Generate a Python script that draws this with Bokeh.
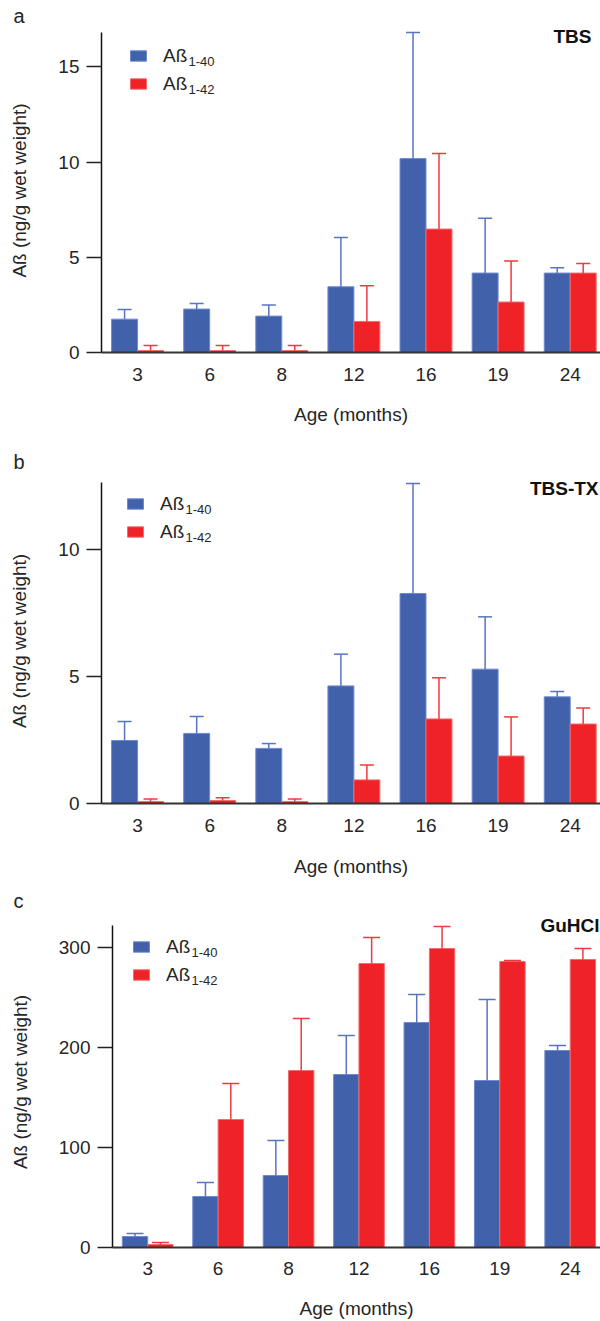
import numpy as np
from bokeh.plotting import figure
from bokeh.models import (ColumnDataSource, Range1d, FixedTicker, Whisker, TeeHead,
                          Legend, LegendItem, Label, Title)
from bokeh.embed import file_html
from bokeh.resources import INLINE

# ---------------- data ----------------
ages = ["3", "6", "8", "12", "16", "19", "24"]

tbs_ab40 = [1.75, 2.28, 1.91, 3.45, 10.18, 4.17, 4.17]
tbs_ab40_err = [0.51, 0.29, 0.58, 2.59, 6.62, 2.88, 0.28]
tbs_ab42 = [0.10, 0.10, 0.10, 1.63, 6.48, 2.65, 4.17]
tbs_ab42_err = [0.27, 0.27, 0.27, 1.87, 3.97, 2.15, 0.50]

tbstx_ab40 = [2.48, 2.76, 2.17, 4.63, 8.27, 5.29, 4.20]
tbstx_ab40_err = [0.75, 0.67, 0.19, 1.25, 4.33, 2.06, 0.21]
tbstx_ab42 = [0.08, 0.12, 0.08, 0.93, 3.33, 1.87, 3.13]
tbstx_ab42_err = [0.10, 0.11, 0.10, 0.59, 1.62, 1.54, 0.63]

guhcl_ab40 = [11, 51, 72, 173, 225, 167, 197]
guhcl_ab40_err = [3, 14, 35, 39, 28, 81, 5]
guhcl_ab42 = [3, 128, 177, 284, 299, 286, 288]
guhcl_ab42_err = [2, 36, 52, 26, 22, 1, 11]

series_labels = ["Aß", "Aß"]
series_subs = ["1-40", "1-42"]
y_label = "Aß (ng/g wet weight)"
x_label = "Age (months)"

# ---------------- style ----------------
FONT = "Liberation Sans"
BLUE_FILL, BLUE_LINE, BLUE_ERR = "#4161AB", "#7089CF", "#5874C2"
RED_FILL, RED_LINE, RED_ERR = "#EE2227", "#F46A6E", "#EE3A40"
TXT = "#262626"
BAR_W = 0.36
FIG_W = 600


def panel(letter, tag, s40, e40, s42, e42, yticks, axis_top, px_per_unit, head_px,
          frame_left, frame_h, x_end, top_b, bottom_b, cap, leg_left, swatch_top,
          tag_right, tag_mid, letter_x, letter_standoff, lab_standoff, axlab_standoff):
    fw = FIG_W - frame_left
    # frame reaches a little above the top of the value axis (room for the tag)
    ymax = axis_top + head_px / px_per_unit
    p = figure(width=FIG_W, frame_width=fw, frame_height=frame_h,
               min_border_left=frame_left, min_border_right=0,
               min_border_top=top_b, min_border_bottom=bottom_b,
               x_range=Range1d(-0.5, x_end), y_range=Range1d(0, ymax),
               output_backend="svg", toolbar_location=None)
    idx = np.arange(len(ages))
    src = ColumnDataSource(dict(
        xb=idx - BAR_W / 2, xr=idx + BAR_W / 2,
        v40=s40, v42=s42,
        u40=[v + e for v, e in zip(s40, e40)],
        u42=[v + e for v, e in zip(s42, e42)]))

    r40 = p.vbar(x="xb", top="v40", bottom=0, width=BAR_W, source=src,
                 fill_color=BLUE_FILL, line_color=BLUE_LINE, line_width=1)
    r42 = p.vbar(x="xr", top="v42", bottom=0, width=BAR_W, source=src,
                 fill_color=RED_FILL, line_color=RED_LINE, line_width=1)
    for base, lo, hi, col in (("xb", "v40", "u40", BLUE_ERR), ("xr", "v42", "u42", RED_ERR)):
        p.add_layout(Whisker(source=src, base=base, lower=lo, upper=hi,
                             line_color=col, line_width=1.5, lower_head=None,
                             upper_head=TeeHead(size=cap, line_color=col, line_width=1.5),
                             level="glyph"))

    p.xgrid.grid_line_color = None
    p.ygrid.grid_line_color = None
    p.outline_line_color = None
    p.background_fill_color = None
    p.border_fill_color = "white"

    xa = p.xaxis[0]
    xa.ticker = FixedTicker(ticks=[int(i) for i in idx])
    xa.major_label_overrides = {int(i): a for i, a in enumerate(ages)}
    xa.major_tick_line_color = None
    xa.minor_tick_line_color = None
    xa.axis_line_color = "#333333"
    xa.axis_line_width = 2
    xa.major_label_standoff = lab_standoff
    xa.major_label_text_font = FONT
    xa.major_label_text_font_size = "19px"
    xa.major_label_text_color = TXT
    xa.axis_label = x_label
    xa.axis_label_text_font = FONT
    xa.axis_label_text_font_size = "19px"
    xa.axis_label_text_font_style = "normal"
    xa.axis_label_text_color = TXT
    xa.axis_label_standoff = axlab_standoff

    ya = p.yaxis[0]
    ya.bounds = (0, axis_top)
    ya.ticker = FixedTicker(ticks=yticks)
    ya.major_tick_out = 15
    ya.major_tick_in = 0
    ya.major_tick_line_width = 1.5
    ya.major_tick_line_color = "#222222"
    ya.minor_tick_line_color = None
    ya.axis_line_color = "#111111"
    ya.axis_line_width = 1.5
    ya.major_label_standoff = 7
    ya.major_label_text_font = FONT
    ya.major_label_text_font_size = "19px"
    ya.major_label_text_color = TXT
    ya.axis_label = y_label
    ya.axis_label_text_font = FONT
    ya.axis_label_text_font_size = "19px"
    ya.axis_label_text_font_style = "normal"
    ya.axis_label_text_color = TXT
    ya.axis_label_standoff = 25

    # panel letter as a title
    t = Title(text=letter, align="left", offset=letter_x - frame_left,
              standoff=letter_standoff, text_font=FONT, text_font_size="20px",
              text_font_style="normal", text_color=TXT)
    p.add_layout(t, "above")

    # legend (items 22 px tall, 28 px apart)
    item_h, spacing = 22, 6
    leg_h = 2 * item_h + spacing
    leg_top = swatch_top - 2.25
    legend = Legend(items=[LegendItem(label=series_labels[0], renderers=[r40]),
                           LegendItem(label=series_labels[1], renderers=[r42])],
                    location=(leg_left, frame_h - leg_top - leg_h),
                    glyph_width=20, glyph_height=13, label_height=item_h,
                    label_standoff=15, spacing=spacing, padding=0, margin=0,
                    label_text_font=FONT, label_text_font_size="19px",
                    label_text_color=TXT,
                    border_line_color=None, background_fill_color=None)
    p.add_layout(legend)
    for k, sub in enumerate(series_subs):
        p.add_layout(Label(x=leg_left + 60, y=frame_h - swatch_top - 14 - k * 28,
                           x_units="screen", y_units="screen", text=sub,
                           text_font=FONT, text_font_size="13px", text_color=TXT,
                           text_baseline="middle", text_align="left"))

    p.add_layout(Label(x=tag_right, y=frame_h - tag_mid, x_units="screen", y_units="screen",
                       text=tag, text_font=FONT, text_font_size="19px",
                       text_font_style="bold", text_color="#111111",
                       text_align="right", text_baseline="middle"))
    return p


pa = panel("a", "TBS", tbs_ab40, tbs_ab40_err, tbs_ab42, tbs_ab42_err,
           [0, 5, 10, 15], 16.8, 19.05, 4,
           101, 324, 6.42, 28, 88, 14,
           27, 19, 490, 8.3, 13, 3.5, 9, 20)
pb = panel("b", "TBS-TX", tbstx_ab40, tbstx_ab40_err, tbstx_ab42, tbstx_ab42_err,
           [0, 5, 10], 12.64, 25.4, 4,
           101, 325, 6.42, 38, 77, 14,
           24, 17, 497, 9.5, 13, 11, 9, 21)
pc = panel("c", "GuHCl", guhcl_ab40, guhcl_ab40_err, guhcl_ab42, guhcl_ab42_err,
           [0, 100, 200, 300], 322, 1.0, 9,
           112, 331, 6.43, 36, 73, 17,
           19, 22, 487, 8.5, 13, 10, 8, 20)

open("out.html", "w").write(file_html([pa, pb, pc], INLINE))
